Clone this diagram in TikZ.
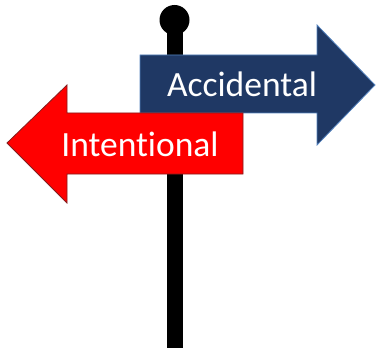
\documentclass[tikz,border=0pt]{standalone}
\usepackage{fontspec}
\setmainfont[Ligatures=NoCommon]{Carlito}
\definecolor{signblue}{RGB}{31,56,100}
\definecolor{signblueline}{RGB}{84,130,190}
\definecolor{signred}{RGB}{255,0,0}
\definecolor{signredline}{RGB}{130,30,30}

\begin{document}
\begin{tikzpicture}[x=1pt, y=-1pt,
    label/.style={text=white, font=\fontsize{35.5}{40}\selectfont, anchor=base, inner sep=0pt}]
    \useasboundingbox (0,0) rectangle (377,350);

    % pole and knob
    \fill[black] (166.5,20) rectangle (183,348);
    \fill[black] (174.5,20) circle (15);

    % right sign
    \draw[fill=signblue, draw=signblueline, line width=0.8pt]
        (140,55) -- (317,55) -- (317,25) -- (375,85) -- (317,145) -- (317,113) -- (140,113) -- cycle;
    % left sign
    \draw[fill=signred, draw=signredline, line width=0.8pt]
        (243,113) -- (67,113) -- (67,85) -- (7,143) -- (67,203) -- (67,174) -- (243,174) -- cycle;

    \node[label] (acc) at (242,97) {Accidental};
    \node[label] (int) at (140,156) {Intentional};
\end{tikzpicture}
\end{document}
